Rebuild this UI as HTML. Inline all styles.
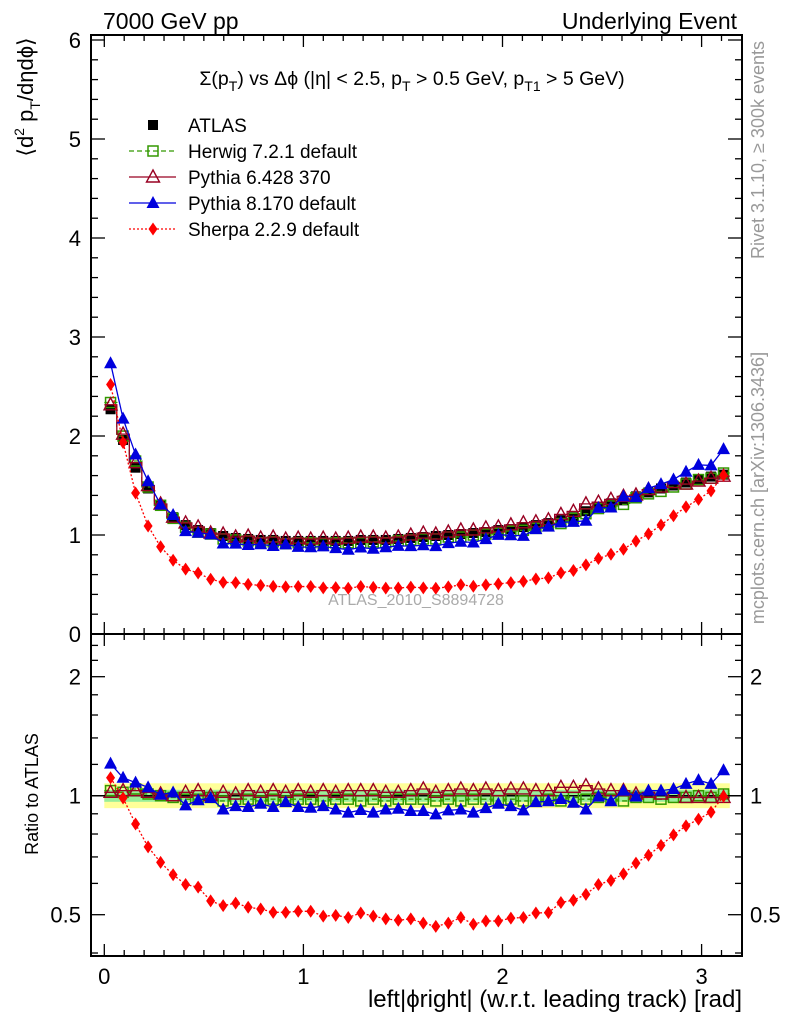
<!DOCTYPE html>
<html><head><meta charset="utf-8"><style>
body{margin:0;background:#fff;}
svg{display:block;font-family:"Liberation Sans",sans-serif;}
</style></head><body>
<svg id="chart" width="786" height="1024" viewBox="0 0 786 1024" xmlns="http://www.w3.org/2000/svg">
<rect x="0" y="0" width="786" height="1024" fill="#fff"/>
<g id="bands"></g>
<g id="series"></g>
<g id="axes"></g>
<text x="103" y="29" font-size="23">7000 GeV pp</text>
<text x="737" y="29" font-size="23" text-anchor="end">Underlying Event</text>
<text x="412" y="85" font-size="19.5" text-anchor="middle">Σ(p<tspan font-size="14" dy="6">T</tspan><tspan dy="-6">) vs Δϕ (|η| &lt; 2.5, p</tspan><tspan font-size="14" dy="6">T</tspan><tspan dy="-6"> &gt; 0.5 GeV, p</tspan><tspan font-size="14" dy="6">T1</tspan><tspan dy="-6"> &gt; 5 GeV)</tspan></text>
<text transform="translate(33,97) rotate(-90)" font-size="22" text-anchor="middle">⟨d<tspan font-size="14" dy="-9">2</tspan><tspan dy="9"> p</tspan><tspan font-size="14" dy="7">T</tspan><tspan dy="-7">/dηdϕ⟩</tspan></text>
<text transform="translate(38,794) rotate(-90)" font-size="18" text-anchor="middle">Ratio to ATLAS</text>
<text x="742" y="1007" font-size="24" text-anchor="end">left|ϕright| (w.r.t. leading track) [rad]</text>
<text transform="translate(764,150) rotate(-90)" font-size="18" fill="#999" text-anchor="middle">Rivet 3.1.10, ≥ 300k events</text>
<text transform="translate(764,488) rotate(-90)" font-size="18" fill="#999" text-anchor="middle">mcplots.cern.ch [arXiv:1306.3436]</text>
<text x="416" y="605" font-size="16" fill="#aaa" text-anchor="middle">ATLAS_2010_S8894728</text>
<g id="legend"></g>
</svg>
<script>
const atlas = [2.27,1.96,1.68,1.47,1.30,1.18,1.10,1.05,1.02,0.99,0.97,0.96,0.95,0.95,0.94,0.94,0.94,0.94,0.94,0.94,0.95,0.95,0.95,0.96,0.97,0.98,0.99,1.00,1.01,1.02,1.03,1.05,1.06,1.08,1.10,1.12,1.15,1.18,1.24,1.28,1.32,1.35,1.39,1.43,1.47,1.50,1.53,1.56,1.59,1.61];
const herwigRatio = [1.03,1.02,1.04,1.01,1.0,0.99,0.98,0.98,0.99,0.97,0.98,0.98,0.97,0.98,0.97,0.98,0.98,0.97,0.98,0.98,0.97,0.98,0.97,0.98,0.98,0.98,0.97,0.98,0.97,0.98,0.98,0.97,0.98,0.97,0.97,0.98,0.97,0.99,0.98,0.99,0.98,0.97,0.99,0.99,0.98,0.99,0.99,1.0,0.99,1.01];
const pythia6Ratio = [1.02,1.03,1.03,1.02,1.01,1.0,1.02,1.03,1.0,1.02,1.01,1.03,1.02,1.03,1.02,1.03,1.02,1.03,1.02,1.03,1.03,1.03,1.02,1.02,1.03,1.04,1.02,1.03,1.04,1.03,1.04,1.03,1.04,1.04,1.03,1.03,1.05,1.05,1.06,1.04,1.03,1.03,1.01,1.02,1.01,1.02,0.99,0.99,0.99,0.99];
const pythia8Ratio = [1.205,1.11,1.079,1.05,1.006,1.019,0.945,0.974,0.987,0.923,0.941,0.936,0.954,0.936,0.963,0.936,0.932,0.941,0.923,0.906,0.92,0.906,0.923,0.927,0.915,0.915,0.897,0.918,0.923,0.906,0.93,0.954,0.941,0.918,0.963,0.968,0.981,0.96,0.923,0.995,0.968,1.03,0.995,1.03,1.03,1.04,1.071,1.095,1.071,1.16];
const sherpaRatio = [1.11,0.987,0.848,0.742,0.678,0.631,0.596,0.587,0.542,0.527,0.535,0.522,0.517,0.507,0.507,0.51,0.51,0.496,0.498,0.492,0.505,0.496,0.488,0.484,0.488,0.476,0.467,0.476,0.492,0.473,0.482,0.482,0.49,0.492,0.505,0.506,0.537,0.544,0.563,0.596,0.61,0.634,0.675,0.707,0.749,0.796,0.839,0.872,0.909,0.996];
const mainTicks = [0,1,2,3,4,5,6];
const ratioTicks = [0.5,1,2];
const xTicks = [0,1,2,3];

const NS='http://www.w3.org/2000/svg';
const L=91,R=742,T=35,MB=634,RB=956;
const nb=atlas.length, bw=Math.PI/nb;
const xs=v=>104.3+v*199.1;
const ym=v=>634-v*99;
const yr=v=>795.7-Math.log2(v)*119;
const binC=i=>(i+0.5)*bw;
function mk(tag,attrs,parent){const e=document.createElementNS(NS,tag);for(const k in attrs)e.setAttribute(k,attrs[k]);parent.appendChild(e);return e;}
const axes=document.getElementById('axes'), ser=document.getElementById('series'), bands=document.getElementById('bands'), leg=document.getElementById('legend');

let f1=mk('rect',{x:L,y:T,width:R-L,height:MB-T,fill:'none',stroke:'#000','stroke-width':2},axes);


let f2=mk('rect',{x:L,y:MB,width:R-L,height:RB-MB,fill:'none',stroke:'#000','stroke-width':2},axes);



for(let v=0;v<=3.2;v+=0.1){
  const x=xs(v); const maj=Math.abs(v-Math.round(v))<1e-6; const len=maj?12:6;
  for(const [y0,dir] of [[MB,-1],[T,1],[RB,-1],[MB,1]]){
    let t=mk('line',{x1:x,x2:x,y1:y0,y2:y0+dir*len,stroke:'#000','stroke-width':1.3},axes);
    
    
  }
}
xTicks.forEach(v=>{let t=mk('text',{x:xs(v),y:984,'font-size':22,'text-anchor':'middle'},axes);t.textContent=v;
  
  });

for(let v=0;v<=6.01;v+=0.2){
  const y=ym(v); const maj=Math.abs(v-Math.round(v))<1e-6; const len=maj?14:7;
  let a=mk('line',{x1:L,x2:L+len,y1:y,y2:y,stroke:'#000','stroke-width':1.3},axes);
  
  
  let b=mk('line',{x1:R,x2:R-len,y1:y,y2:y,stroke:'#000','stroke-width':1.3},axes);
  
  
}
mainTicks.forEach(v=>{let t=mk('text',{x:81,y:ym(v)+8,'font-size':22,'text-anchor':'end'},axes);t.textContent=v;
  
  });

const minorR=[0.4,0.6,0.7,0.8,0.9,1.2,1.4,1.6,1.8,2.2,2.4];
minorR.concat(ratioTicks).forEach(v=>{
  const y=yr(v); const len=ratioTicks.includes(v)?14:7;
  let a=mk('line',{x1:L,x2:L+len,y1:y,y2:y,stroke:'#000','stroke-width':1.3},axes);
  
  
  let b=mk('line',{x1:R,x2:R-len,y1:y,y2:y,stroke:'#000','stroke-width':1.3},axes);
  
  
});
ratioTicks.forEach(v=>{
  let t=mk('text',{x:81,y:yr(v)+8,'font-size':22,'text-anchor':'end'},axes);t.textContent=v;
  
  
  let t2=mk('text',{x:750,y:yr(v)+8,'font-size':22},axes);t2.textContent=v;
  
  
});

let by=mk('rect',{x:xs(0),y:yr(1.075),width:xs(Math.PI)-xs(0),height:yr(0.93)-yr(1.075),fill:'#ffff99'},bands);


let bg=mk('rect',{x:xs(0),y:yr(1.035),width:xs(Math.PI)-xs(0),height:yr(0.965)-yr(1.035),fill:'#99ee99'},bands);


let one=mk('line',{x1:L,x2:R,y1:yr(1),y2:yr(1),stroke:'#000','stroke-width':1.5},bands);



function marker(type,x,y,color,g){
  let e;
  if(type==='sq') e=mk('rect',{x:x-5,y:y-5,width:10,height:10,fill:color},g);
  else if(type==='osq') e=mk('rect',{x:x-5,y:y-5,width:10,height:10,fill:'none',stroke:color,'stroke-width':1.5},g);
  else if(type==='otri') e=mk('polygon',{points:`${x},${y-7} ${x+6.5},${y+5} ${x-6.5},${y+5}`,fill:'none',stroke:color,'stroke-width':1.4},g);
  else if(type==='tri') e=mk('polygon',{points:`${x},${y-7} ${x+6.5},${y+5} ${x-6.5},${y+5}`,fill:color},g);
  else e=mk('polygon',{points:`${x},${y-6.5} ${x+4.5},${y} ${x},${y+6.5} ${x-4.5},${y}`,fill:color},g);
  return e;
}
const defs=[
  {name:'herwig',ratio:herwigRatio,color:'#339900',dash:'5,3',m:'osq',stair:true},
  {name:'pythia6',ratio:pythia6Ratio,color:'#990022',dash:'',m:'otri',stair:true},
  {name:'pythia8',ratio:pythia8Ratio,color:'#0000dd',dash:'',m:'tri',stair:false},
  {name:'sherpa',ratio:sherpaRatio,color:'#ff0000',dash:'2,2',m:'dia',stair:false}
];
function drawSeries(vals,yf,d,g,stair){
  let p='';
  if(stair){vals.forEach((v,i)=>{const x0=xs(i*bw),x1=xs((i+1)*bw),y=yf(v);p+=(i?'L':'M')+x0+','+y+'L'+x1+','+y;});}
  else{vals.forEach((v,i)=>{p+=(i?'L':'M')+xs(binC(i))+','+yf(v);});}
  let ln=mk('path',{d:p,fill:'none',stroke:d.color,'stroke-width':1.3,'stroke-dasharray':d.dash},g);
  
  
  vals.forEach((v,i)=>{const m=marker(d.m,xs(binC(i)),yf(v),d.color,g);
    
    });
}
const ga=mk('g',{},ser);


defs.forEach(d=>{
  const g=mk('g',{},ser);
  
  
  const top=d.ratio.map((r,i)=>r*atlas[i]);
  drawSeries(top,ym,d,g,d.stair);
  drawSeries(d.ratio,yr,d,g,d.stair);
});
atlas.forEach((v,i)=>{const m=marker('sq',xs(binC(i)),ym(v),'#000',ga);
  
  });
ser.insertBefore(ga,ser.firstChild);

const legItems=[
  {label:'ATLAS',m:'sq',color:'#000',dash:null},
  {label:'Herwig 7.2.1 default',m:'osq',color:'#339900',dash:'5,3'},
  {label:'Pythia 6.428 370',m:'otri',color:'#990022',dash:''},
  {label:'Pythia 8.170 default',m:'tri',color:'#0000dd',dash:''},
  {label:'Sherpa 2.2.9 default',m:'dia',color:'#ff0000',dash:'2,2'}
];
legItems.forEach((it,i)=>{
  const y=125+i*26;
  const g=mk('g',{},leg);
  
  
  if(it.dash!==null){mk('line',{x1:129,x2:176,y1:y,y2:y,stroke:it.color,'stroke-width':1.3,'stroke-dasharray':it.dash},g);}
  marker(it.m,153,y,it.color,g);
  const t=mk('text',{x:188,y:y+7,'font-size':19},g);t.textContent=it.label;
});
</script>
</body></html>
